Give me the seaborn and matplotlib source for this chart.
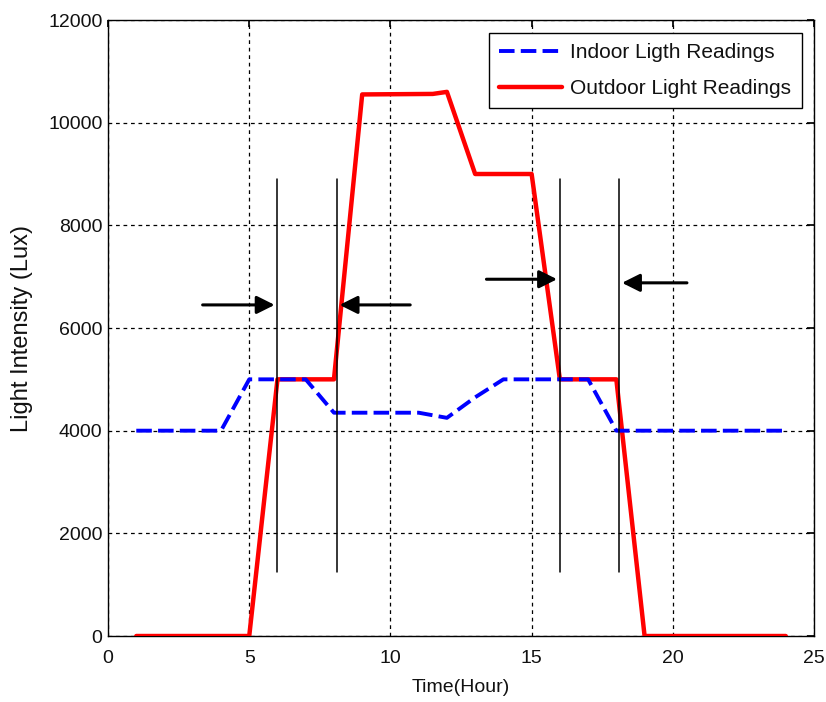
import matplotlib
matplotlib.use("Agg")
import matplotlib.pyplot as plt
import seaborn as sns
import pandas as pd

# Hourly light readings
hours_indoor = [1, 4, 5, 7, 8, 11, 12, 13, 14, 17, 18, 24]
indoor_lux = [4000, 4000, 5000, 5000, 4350, 4350, 4250, 4650, 5000, 5000, 4000, 4000]

hours_outdoor = [1, 5, 6, 8, 9, 11.5, 12, 13, 15, 16, 18, 19, 24]
outdoor_lux = [0, 0, 5000, 5000, 10550, 10560, 10600, 9000, 9000, 5000, 5000, 0, 0]

# Switching markers: vertical guide lines and arrows (start, end, level)
marker_hours = [6, 8.1, 16, 18.1]
marker_low, marker_high = 1250, 8900
arrow_starts = [3.35, 10.7, 13.4, 20.5]
arrow_ends = [5.9, 8.2, 15.9, 18.2]
arrow_levels = [6450, 6450, 6950, 6880]

x_ticks = [0, 5, 10, 15, 20, 25]
y_ticks = [0, 2000, 4000, 6000, 8000, 10000, 12000]

sns.set_theme(style="white")
plt.rcParams["font.family"] = ["Liberation Sans", "DejaVu Sans"]
text_color = "#111111"

fig = plt.figure(figsize=(8.26, 7.02), dpi=100)
ax = fig.add_axes([0.1308, 0.094, 0.8547, 0.8775])

df_in = pd.DataFrame({"hour": hours_indoor, "lux": indoor_lux})
df_out = pd.DataFrame({"hour": hours_outdoor, "lux": outdoor_lux})

sns.lineplot(data=df_in, x="hour", y="lux", ax=ax, color="#0000ff", lw=2.8,
             label="Indoor Ligth Readings", zorder=4)
ax.lines[-1].set_dashes([4.0, 1.6])
sns.lineplot(data=df_out, x="hour", y="lux", ax=ax, color="#ff0000", lw=3.2,
             label="Outdoor Light Readings", zorder=3)

for h in marker_hours:
    ax.plot([h, h], [marker_low, marker_high], color="black", lw=1.1, zorder=5)

for s, e, lvl in zip(arrow_starts, arrow_ends, arrow_levels):
    ax.annotate("", xy=(e, lvl), xytext=(s, lvl),
                arrowprops=dict(arrowstyle="-|>,head_length=0.9,head_width=0.45",
                                color="black", lw=2.2, shrinkA=0, shrinkB=0),
                zorder=6)

ax.set_xlim(0, 25)
ax.set_ylim(0, 12000)
ax.set_xticks(x_ticks)
ax.set_yticks(y_ticks)
ax.grid(True, color="black", linestyle=(0, (3, 3)), lw=0.9)
ax.set_axisbelow(True)
for sp in ax.spines.values():
    sp.set_color("black")
    sp.set_linewidth(1.0)
ax.tick_params(direction="in", length=5, color="black", labelsize=14,
               labelcolor=text_color, top=True, right=True)
ax.tick_params(axis="x", pad=10)
ax.tick_params(axis="y", pad=4)
ax.set_xlabel("Time(Hour)", fontsize=14, color=text_color, labelpad=9)
ax.set_ylabel("Light Intensity (Lux)", fontsize=17, color=text_color)
ax.yaxis.set_label_coords(-0.106, 0.5)

leg = ax.legend(loc="upper right", fontsize=15, frameon=True, fancybox=False,
                edgecolor="black", framealpha=1, borderaxespad=0.6,
                handlelength=3.0, handletextpad=0.4, labelspacing=0.82,
                borderpad=0.5)
leg.get_frame().set_linewidth(1.0)
for t in leg.get_texts():
    t.set_color(text_color)

fig.savefig("out.png", dpi=100)
